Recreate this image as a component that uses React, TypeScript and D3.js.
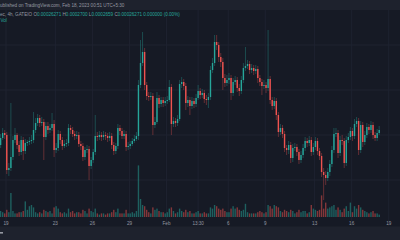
import React from "react";
import * as d3 from "d3";

const W = 400;
const H = 240;

// 4h candles (IST wall clock), first candle Jan 18 13:30
const startTime = Date.UTC(2023, 0, 18, 13, 30);
const barMs = 4 * 3600 * 1000;
const firstOpen = 155;

const closes = [162,167,165,130,132,143,160,165,155,148,
160,149,157,158,159,160,170,177,182,177,
178,163,174,170,172,176,150,152,166,160,
154,156,157,172,170,166,164,165,156,154,
143,150,151,134,140,148,164,163,165,163,
165,164,162,164,155,149,154,172,169,164,
166,153,154,156,159,161,164,215,237,248,
215,204,203,204,175,178,202,196,200,197,
199,200,213,176,179,177,181,216,218,214,
197,200,194,199,196,202,209,205,207,201,
200,203,230,237,258,255,243,238,222,217,
220,222,207,218,220,212,209,220,232,234,
236,230,232,229,231,222,218,214,215,212,
221,200,194,199,185,168,172,166,152,150,
155,142,152,153,148,140,145,152,159,157,
160,148,153,159,149,144,128,125,122,128,
136,150,166,167,147,160,159,137,160,163,
169,164,176,179,150,175,158,165,173,170,
175,165,162,167,170];

const highs = [166,172,170,168,137,197,164,172,167,159,
164,163,161,160,163,165,188,182,186,185,
183,181,178,178,176,187,180,157,170,169,
163,160,161,176,175,173,169,169,168,159,
157,153,155,154,143,151,185,168,169,168,
169,168,167,168,167,158,157,176,175,172,
170,169,158,159,162,165,168,220,260,268,
252,218,208,208,207,183,208,205,203,203,
203,204,220,216,183,182,185,220,223,221,
217,204,203,203,202,206,215,212,211,210,
205,207,234,242,265,265,258,247,242,226,
225,227,225,222,224,223,216,224,237,253,
240,239,236,235,235,234,225,221,220,218,
270,224,203,203,202,188,176,175,169,155,
159,158,156,157,156,151,149,156,163,162,
164,163,157,163,162,152,147,132,129,132,
140,154,172,172,170,164,165,162,164,167,
173,172,181,183,182,179,178,169,177,176,
179,178,168,171,174];

const lows = [152,160,161,126,124,129,140,157,151,144,
145,140,146,154,155,156,157,167,174,173,
174,140,160,166,167,169,143,147,149,156,
150,152,153,154,166,163,160,161,153,150,
139,140,147,120,131,137,145,159,160,159,
160,160,158,159,151,145,146,151,165,161,
161,149,150,151,154,157,159,160,212,234,
210,200,199,200,165,172,176,192,193,193,
194,196,198,165,173,173,174,179,212,210,
190,193,185,191,192,193,200,201,202,197,
195,192,200,227,234,250,238,233,210,213,
214,216,200,204,215,208,204,206,217,229,
231,226,227,225,226,217,214,205,211,207,
209,196,190,191,180,163,165,162,148,145,
146,137,138,149,144,136,137,142,149,153,
154,144,145,150,145,140,123,100,115,119,
124,133,147,163,142,144,155,132,134,157,
160,159,161,173,145,147,153,155,162,166,
167,161,159,159,165];

const volumes = [5,4,3,6,4,20,5,3,3,4,
4,5,13,6,9,10,8,4,3,4,
3,6,5,4,5,3,8,9,7,4,
3,4,3,7,4,5,3,4,4,3,
6,5,3,7,5,4,7,3,2,3,
3,2,3,3,4,6,4,7,3,3,
3,6,3,3,4,3,5,43,15,10,
9,6,4,3,8,6,7,5,4,4,
3,4,7,8,5,3,4,7,5,4,
6,4,5,3,3,4,5,3,3,4,
3,3,8,7,10,9,7,6,7,5,
4,4,7,9,7,8,6,5,6,11,
4,3,3,3,3,4,5,4,3,4,
10,9,7,10,9,8,5,4,6,5,
4,6,5,3,4,6,4,5,5,3,
4,10,7,6,5,6,18,7,12,7,
8,9,10,6,8,6,4,7,9,5,
12,4,9,7,10,8,6,5,4,3,
4,5,3,3,2];

const tickTimes = [
  Date.UTC(2023, 0, 19), Date.UTC(2023, 0, 23), Date.UTC(2023, 0, 26), Date.UTC(2023, 0, 29),
  Date.UTC(2023, 1, 1), Date.UTC(2023, 1, 3, 13, 30), Date.UTC(2023, 1, 6), Date.UTC(2023, 1, 9),
  Date.UTC(2023, 1, 13), Date.UTC(2023, 1, 16), Date.UTC(2023, 1, 19),
];
const tickLabels = ["19", "23", "26", "29", "Feb", "13:30", "6", "9", "13", "16", "19"];

const gridLevels = [255, 210, 165, 120];

const UP = "#26a69a";
const DOWN = "#ef5350";
const FONT = "'Liberation Sans', Arial, sans-serif";

export default function App() {
  const x = d3
    .scaleUtc()
    .domain([new Date(startTime), new Date(startTime + (closes.length - 1) * barMs)])
    .range([0.6, 379.2]);
  const y = d3.scaleLinear().domain([75, 290]).range([225, 10]);
  const vy = d3.scaleLinear().domain([0, 50]).range([217, 157]);

  const candles = closes.map((c, i) => ({
    t: new Date(startTime + i * barMs),
    o: i === 0 ? firstOpen : closes[i - 1],
    c,
    h: highs[i],
    l: lows[i],
    v: volumes[i],
  }));

  const bw = 1.4;

  return (
    <svg
      width={W}
      height={H}
      style={{ position: "fixed", left: 0, top: 0, display: "block" }}
      xmlns="http://www.w3.org/2000/svg"
    >
      <rect x={0} y={0} width={W} height={H} fill="#161a25" />
      {/* grid */}
      {tickTimes.map((t, i) => (
        <line key={"vg" + i} x1={x(new Date(t))} x2={x(new Date(t))} y1={10} y2={226} stroke="#1e2230" strokeWidth={1} />
      ))}
      {gridLevels.map((g, i) => (
        <line key={"hg" + i} x1={0} x2={W} y1={y(g)} y2={y(g)} stroke="#1e2230" strokeWidth={1} />
      ))}
      {/* volume */}
      {candles.map((d, i) => (
        <rect
          key={"v" + i}
          x={x(d.t) - bw / 2}
          y={vy(d.v)}
          width={bw}
          height={vy(0) - vy(d.v)}
          fill={d.c >= d.o ? UP : DOWN}
          fillOpacity={0.5}
        />
      ))}
      {/* candles */}
      {candles.map((d, i) => {
        const col = d.c >= d.o ? UP : DOWN;
        const top = y(Math.max(d.o, d.c));
        const bot = y(Math.min(d.o, d.c));
        return (
          <g key={"c" + i}>
            <line x1={x(d.t)} x2={x(d.t)} y1={y(d.h)} y2={y(d.l)} stroke={col} strokeWidth={0.6} strokeOpacity={0.6} />
            <rect x={x(d.t) - bw / 2} y={top} width={bw} height={Math.max(0.8, bot - top)} fill={col} />
          </g>
        );
      })}
      {/* top bar */}
      <rect x={0} y={0} width={W} height={10} fill="#1e222d" />
      <text x={0} y={7} fontFamily={FONT} fontSize={4.6} fill="#9598a1">
        ublished on TradingView.com, Feb 18, 2023 00:51 UTC+5:30
      </text>
      {/* legend */}
      <text x={0} y={16} fontFamily={FONT} fontSize={4.6} fill="#9598a1">
        ec, 4h, GATEIO{" "}
        <tspan fill="#9598a1">O</tspan><tspan fill={UP}>0.00026271 </tspan>
        <tspan fill="#9598a1">H</tspan><tspan fill={UP}>0.0002700 </tspan>
        <tspan fill="#9598a1">L</tspan><tspan fill={UP}>0.0002659 </tspan>
        <tspan fill="#9598a1">C</tspan><tspan fill={UP}>0.00026271 </tspan>
        <tspan fill={UP}>0.000000 (0.00%)</tspan>
      </text>
      <text x={0.5} y={21.5} fontFamily={FONT} fontSize={4.6} fill={UP}>
        Vol
      </text>
      {/* x-axis labels */}
      {tickTimes.map((t, i) => (
        <text
          key={"tl" + i}
          x={x(new Date(t))}
          y={224.5}
          textAnchor="middle"
          fontFamily={FONT}
          fontSize={4.6}
          fill="#9598a1"
        >
          {tickLabels[i]}
        </text>
      ))}
      {/* footer */}
      <rect x={0} y={226.5} width={W} height={H - 226.5} fill="#1e222d" />
      <rect x={0} y={232} width={3} height={1.6} fill="#9598a1" />
    </svg>
  );
}
